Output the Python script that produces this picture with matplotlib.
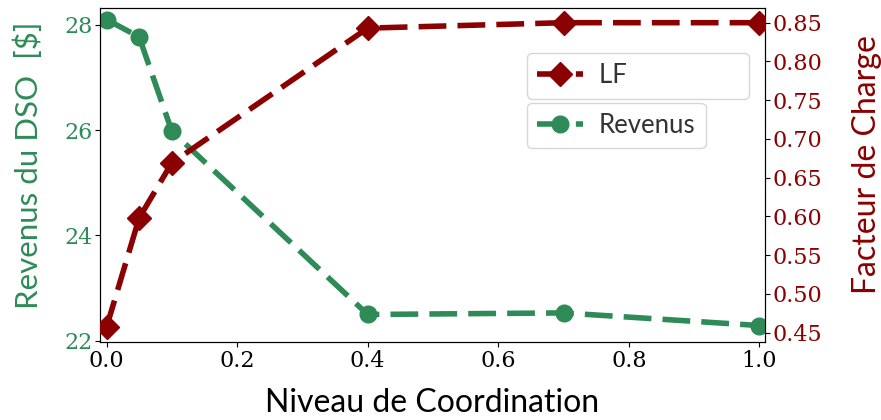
import numpy as np
import matplotlib
matplotlib.use("Agg")
import matplotlib.pyplot as plt

# coordination levels and the two series
niveau = [0.0, 0.05, 0.1, 0.4, 0.7, 1.0]
revenus = [28.1, 27.77, 25.98, 22.5, 22.53, 22.29]
facteur_charge = [0.457, 0.598, 0.669, 0.843, 0.85, 0.85]

rev_ticks = [22, 24, 26, 28]
lf_ticks = [0.45, 0.50, 0.55, 0.60, 0.65, 0.70, 0.75, 0.80, 0.85]
x_ticks = [0.0, 0.2, 0.4, 0.6, 0.8, 1.0]

green = "#2e8b57"
red = "#8b0000"
label_font = "Lato"
tick_font = "DejaVu Serif"

fig, ax = plt.subplots(figsize=(8.81, 4.2), dpi=100)
fig.subplots_adjust(left=0.1135, right=0.868, bottom=0.186, top=0.981)
ax2 = ax.twinx()

ax.plot(niveau, revenus, "--o", color=green, lw=4, ms=12, dashes=(5, 2),
        label="Revenus", zorder=3)
ax2.plot(niveau, facteur_charge, "--D", color=red, lw=4, ms=12,
         dashes=(5, 2), label="LF" + " " * 17, zorder=3)

ax.set_xlim(-0.01, 1.008)
ax.set_ylim(21.98, 28.32)
ax2.set_ylim(0.438, 0.869)

ax.set_xticks(x_ticks)
ax.set_xticklabels([f"{v:.1f}" for v in x_ticks], family=tick_font,
                   fontsize=16)
ax.set_yticks(rev_ticks)
ax.set_yticklabels([str(v) for v in rev_ticks], family=tick_font,
                   fontsize=16, color=green)
ax2.set_yticks(lf_ticks)
ax2.set_yticklabels([f"{v:.2f}" for v in lf_ticks], family=tick_font,
                    fontsize=16, color=red)
ax.tick_params(pad=2)
ax2.tick_params(pad=2)

ax.set_xlabel("Niveau de Coordination", family=label_font, fontsize=23,
              labelpad=12)
ax.set_ylabel("Revenus du DSO  [$]", family=label_font, fontsize=22.5,
              color=green)
ax2.set_ylabel("Facteur de Charge", family=label_font, fontsize=23,
               color=red)
ax.yaxis.set_label_coords(-0.086, 0.53)
ax2.yaxis.set_label_coords(1.131, 0.53)

leg_font = {"family": label_font, "size": 18.5}
ax2.legend(loc="upper left", bbox_to_anchor=(0.642, 0.865),
           borderaxespad=0, prop=leg_font, handlelength=1.8,
           handletextpad=0.6, labelcolor="#333333")
ax.legend(loc="upper left", bbox_to_anchor=(0.642, 0.716),
          borderaxespad=0, prop=leg_font, handlelength=1.8,
          handletextpad=0.6, labelcolor="#333333")

fig.savefig("out.png", dpi=100)
